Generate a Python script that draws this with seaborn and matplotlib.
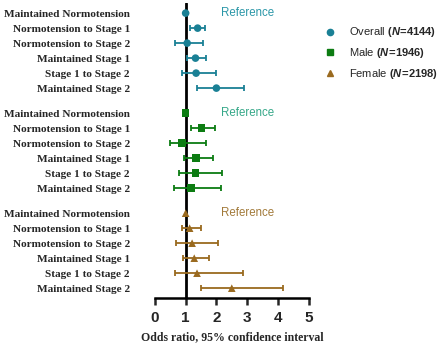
import numpy as np
import pandas as pd
import matplotlib
matplotlib.use("Agg")
import matplotlib.pyplot as plt
import seaborn as sns
from matplotlib.lines import Line2D

# Row labels (same for every group)
rows = ['Maintained Normotension', 'Normotension to Stage 1', 'Normotension to Stage 2',
        'Maintained Stage 1', 'Stage 1 to Stage 2', 'Maintained Stage 2']

groups = ['Overall', 'Male', 'Female']
group_n = [4144, 1946, 2198]

# odds ratios and 95% CI
overall_or = [1.00, 1.39, 1.05, 1.32, 1.34, 2.00]
overall_lo = [1.00, 1.13, 0.67, 1.05, 0.88, 1.37]
overall_hi = [1.00, 1.64, 1.55, 1.67, 2.00, 2.91]

male_or = [1.00, 1.51, 0.88, 1.33, 1.32, 1.17]
male_lo = [1.00, 1.19, 0.49, 0.94, 0.80, 0.62]
male_hi = [1.00, 1.94, 1.67, 1.88, 2.19, 2.16]

female_or = [1.00, 1.13, 1.21, 1.28, 1.37, 2.50]
female_lo = [1.00, 0.88, 0.69, 0.93, 0.65, 1.50]
female_hi = [1.00, 1.50, 2.04, 1.77, 2.85, 4.17]

colors = ['#1a8095', '#0c7c12', '#9a6a1f']
ref_colors = ['#2b97a8', '#36a889', '#a27a3a']
markers = ['o', 's', '^']

sns.set_style('white')
plt.rcParams['mathtext.fontset'] = 'custom'
plt.rcParams['mathtext.bf'] = 'Liberation Sans:bold'
plt.rcParams['mathtext.it'] = 'Liberation Sans:bold:italic'
plt.rcParams['mathtext.rm'] = 'Liberation Sans'

# build a long table
ors = [overall_or, male_or, female_or]
los = [overall_lo, male_lo, female_lo]
his = [overall_hi, male_hi, female_hi]
recs = []
for gi, g in enumerate(groups):
    for ri, r in enumerate(rows):
        recs.append({'group': g, 'row': r, 'pos': gi * 6.67 + ri,
                     'or': ors[gi][ri], 'lo': los[gi][ri], 'hi': his[gi][ri]})
df = pd.DataFrame(recs)

fig = plt.figure(figsize=(4.4, 3.43), dpi=100)
ax = fig.add_axes([0.352, 0.131, 0.353, 0.86])

ax.axvline(1, color='black', lw=2, zorder=1)

for gi, g in enumerate(groups):
    d = df[(df['group'] == g) & (df['row'] != rows[0])]
    ax.errorbar(d['or'], d['pos'], xerr=[d['or'] - d['lo'], d['hi'] - d['or']],
                fmt='none', ecolor=colors[gi], elinewidth=1.3, capsize=2.5,
                capthick=1.3, zorder=2)

sns.scatterplot(data=df, x='or', y='pos', hue='group', style='group',
                palette=colors, markers=markers, s=30, linewidth=0,
                legend=False, ax=ax, zorder=3)

# Reference labels
for gi in range(3):
    ax.text(2.15, gi * 6.67, 'Reference', color=ref_colors[gi], fontsize=8.3,
            family='Liberation Sans', va='center', ha='left')

ax.set_xlim(0, 5.05)
ax.set_ylim(19.0, -0.67)
ax.set_xticks(range(6))
ax.set_xticklabels([str(i) for i in range(6)], fontsize=11, fontweight='bold',
                   family='Liberation Sans')
ax.set_yticks(df['pos'])
ax.set_yticklabels(df['row'], fontsize=8.1, fontweight='bold', family='Liberation Serif')
ax.set_ylabel('')
ax.tick_params(axis='y', left=False, pad=14.5)
ax.tick_params(axis='x', bottom=True, direction='out', length=5, width=1.8, pad=4)

for s in ['left', 'right', 'top']:
    ax.spines[s].set_visible(False)
ax.spines['bottom'].set_linewidth(1.8)
ax.spines['bottom'].set_color('black')
ax.spines['bottom'].set_bounds(0, 5)

ax.set_xlabel('Odds ratio, 95% confidence interval', fontsize=8.5, fontweight='bold',
              family='Liberation Serif', labelpad=5)

handles = [Line2D([], [], ls='none', marker=markers[i], color=colors[i], markersize=4.5)
           for i in range(3)]
labels = [f'{g} ' + r'$\mathbf{(}\mathit{N}\!\mathbf{=}\!\mathbf{' + str(n) + r')}$'
          for g, n in zip(groups, group_n)]
leg = fig.legend(handles, labels, loc='upper left', bbox_to_anchor=(0.713, 0.955),
                 frameon=False, prop={'family': 'Liberation Sans', 'size': 8},
                 handletextpad=1.1, labelspacing=0.62, handlelength=1.2)

fig.savefig('out.png', dpi=100)
